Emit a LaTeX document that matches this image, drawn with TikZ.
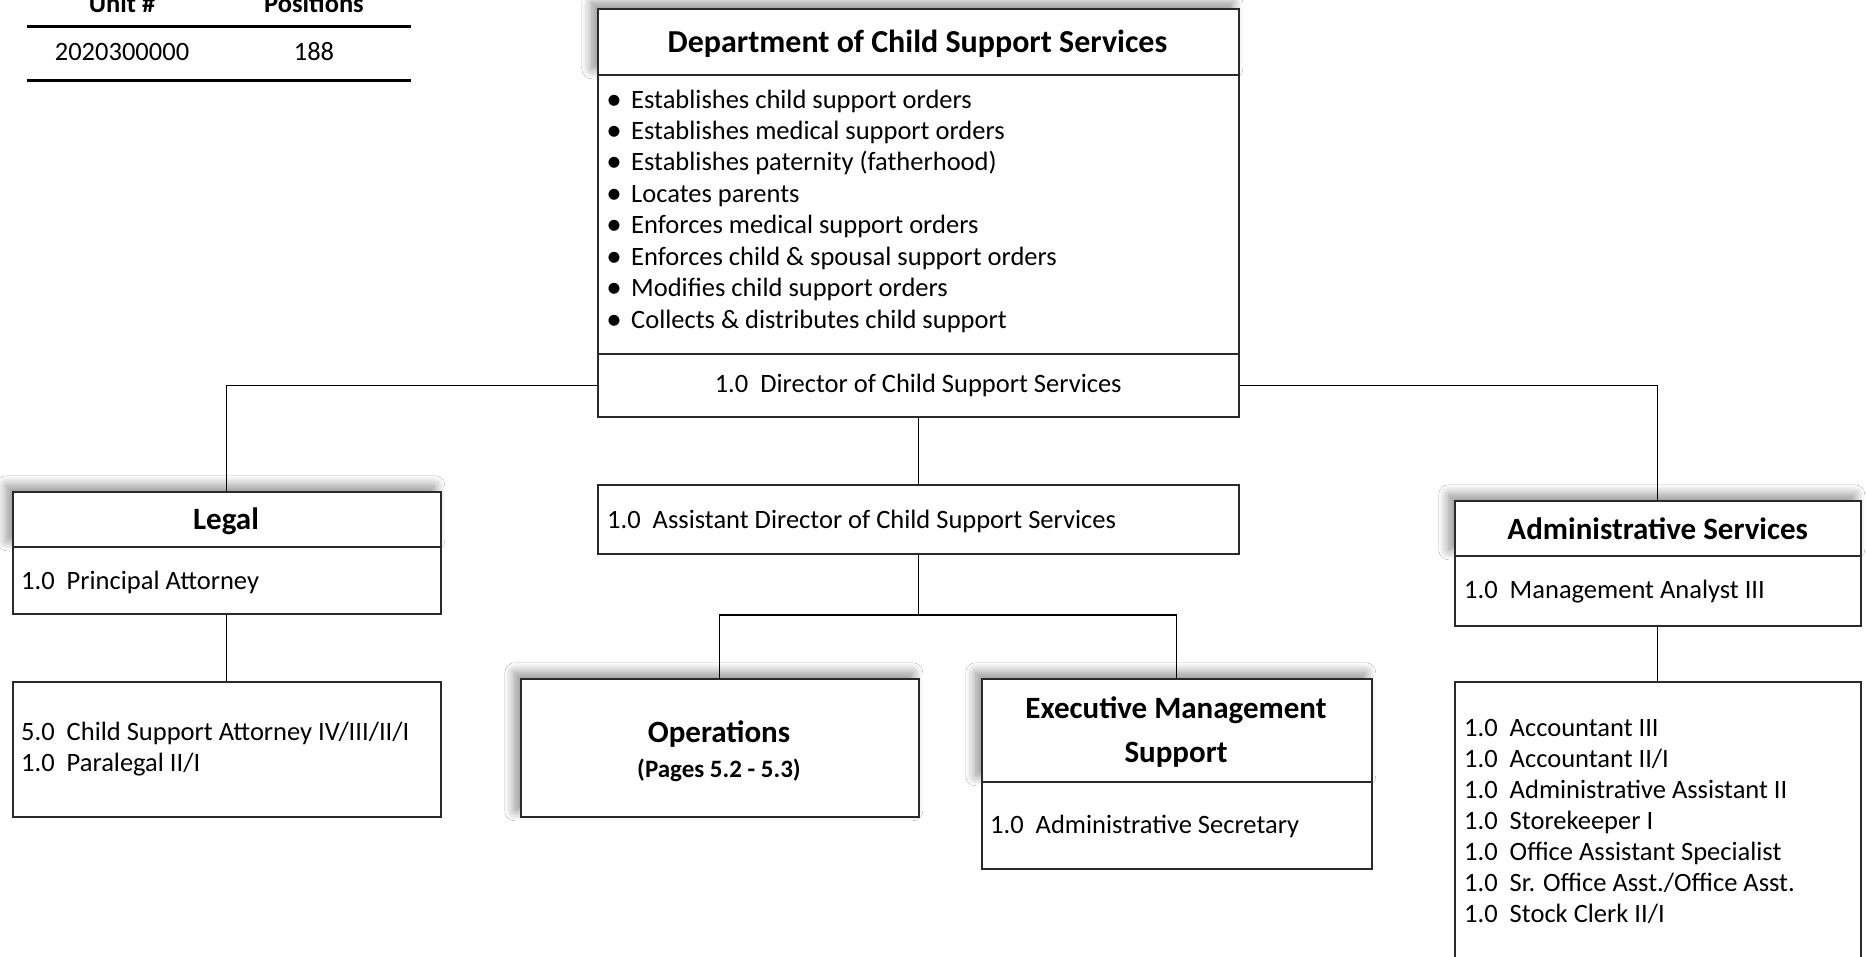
\documentclass[tikz,border=0pt]{standalone}
\usepackage{fontspec}
\setmainfont{Carlito}
\usetikzlibrary{shadows.blur}
\definecolor{linec}{HTML}{2A2A2A}
\newcommand\sgap{\hspace{12pt}}
\begin{document}
\begin{tikzpicture}[x=1pt,y=-1pt,
  frame/.style={draw=linec, line width=1.5pt, fill=white, inner sep=0pt, anchor=north west},
  shade/.style={blur shadow={shadow xshift=-6pt, shadow yshift=6pt, shadow blur radius=10pt, shadow blur steps=14, shadow opacity=45}},
  conn/.style={draw=black, line width=1.2pt},
  body/.style={font=\fontsize{26.5}{32}\selectfont, inner sep=0pt},
  head/.style={font=\bfseries\fontsize{31}{44}\selectfont, inner sep=0pt, align=center},
  rule/.style={draw=black, line width=3pt}]
\useasboundingbox (0,0) rectangle (1866,956);
\fill[white] (0,0) rectangle (1866,956);

% table
\coordinate (t1a) at (27,26); \coordinate (t1b) at (411,26);
\coordinate (t2a) at (27,80); \coordinate (t2b) at (411,80);
\draw[rule] (t1a) -- (t1b);
\draw[rule] (t2a) -- (t2b);
\node[body, font=\bfseries\fontsize{26.5}{32}\selectfont, anchor=base] (hunit) at (122,12) {Unit \#};
\node[body, font=\bfseries\fontsize{26.5}{32}\selectfont, anchor=base] (hpos) at (314,12) {Positions};
\node[body, anchor=base] (vunit) at (122,60) {2020300000};
\node[body, anchor=base] (vpos) at (314,60) {188};

% department
\node[frame, shade, minimum width=641pt, minimum height=66pt] (dtitle) at (597,8) {};
\node[head, font=\bfseries\fontsize{32}{40}\selectfont] (dtitlet) at (917.5,44) {Department of Child Support Services};
\node[frame, minimum width=641pt, minimum height=279pt] (dlist) at (597,74) {};
\node[frame, minimum width=641pt, minimum height=63pt, body] (ddir) at (597,353) {1.0\sgap Director of Child Support Services};
\foreach \t [count=\i from 0] in {Establishes child support orders,Establishes medical support orders,Establishes paternity (fatherhood),Locates parents,Enforces medical support orders,Enforces child \& spousal support orders,Modifies child support orders,Collects \& distributes child support}{
  \node[body, font=\fontsize{31}{31}\selectfont, anchor=base] (b\i) at (614,{109+31.45*\i}) {•};
  \node[body, anchor=base west] (bt\i) at (631,{108+31.45*\i}) {\t};
}

% assistant director
\node[frame, minimum width=641pt, minimum height=69pt] (asst) at (597,484) {};
\node[body, anchor=base west] (asstt) at (607,528) {1.0\sgap Assistant Director of Child Support Services};

% legal
\node[frame, shade, minimum width=428pt, minimum height=55pt] (ltitle) at (12,491) {};
\node[head] (ltitlet) at (226,521) {Legal};
\node[frame, minimum width=428pt, minimum height=67pt] (lhead) at (12,546) {};
\node[body, anchor=base west] (lheadt) at (21,589) {1.0\sgap Principal Attorney};
\node[frame, minimum width=428pt, minimum height=135pt] (lstaff) at (12,681) {};
\node[body, anchor=base west] (ls1) at (21,740) {5.0\sgap Child Support Attorney IV/III/II/I};
\node[body, anchor=base west] (ls2) at (21,771) {1.0\sgap Paralegal II/I};

% operations
\node[frame, shade, minimum width=398pt, minimum height=138pt] (ops) at (520,678) {};
\node[head, anchor=base] (opst) at (719,742) {Operations};
\node[head, font=\bfseries\fontsize{25}{30}\selectfont, anchor=base] (opsp) at (719,777) {(Pages 5.2 - 5.3)};

% executive management support
\node[frame, shade, minimum width=390pt, minimum height=103pt] (etitle) at (981,678) {};
\node[head] (etitlet) at (1176,732) {Executive Management\\Support};
\node[frame, minimum width=390pt, minimum height=87pt] (ebody) at (981,781) {};
\node[body, anchor=base west] (ebodyt) at (990,833) {1.0\sgap Administrative Secretary};

% administrative services
\node[frame, shade, minimum width=406pt, minimum height=55pt, head] (atitle) at (1454,500) {Administrative Services};
\node[frame, minimum width=406pt, minimum height=70pt] (ahead) at (1454,555) {};
\node[body, anchor=base west] (aheadt) at (1464,598) {1.0\sgap Management Analyst III};
\node[frame, minimum width=406pt, minimum height=300pt] (astaff) at (1454,681) {};
\foreach \t [count=\i from 0] in {Accountant III,Accountant II/I,Administrative Assistant II,Storekeeper I,Office Assistant Specialist,Sr. Office Asst./Office Asst.,Stock Clerk II/I}{
  \node[body, anchor=base west] (as\i) at (1464,{736+31*\i}) {1.0\sgap \t};
}

% connectors
\coordinate (bus) at (asst.south |- 0,615);
\draw[conn] (ddir.west) -| (ltitle.north);
\draw[conn] (ddir.east) -| (atitle.north);
\draw[conn] (ddir.south) -- (asst.north);
\draw[conn] (asst.south) -- (bus);
\draw[conn] (bus) -| (ops.north);
\draw[conn] (bus) -| (etitle.north);
\draw[conn] (lhead.south) -- (lstaff.north);
\draw[conn] (ahead.south) -- (astaff.north);
\end{tikzpicture}
\end{document}
